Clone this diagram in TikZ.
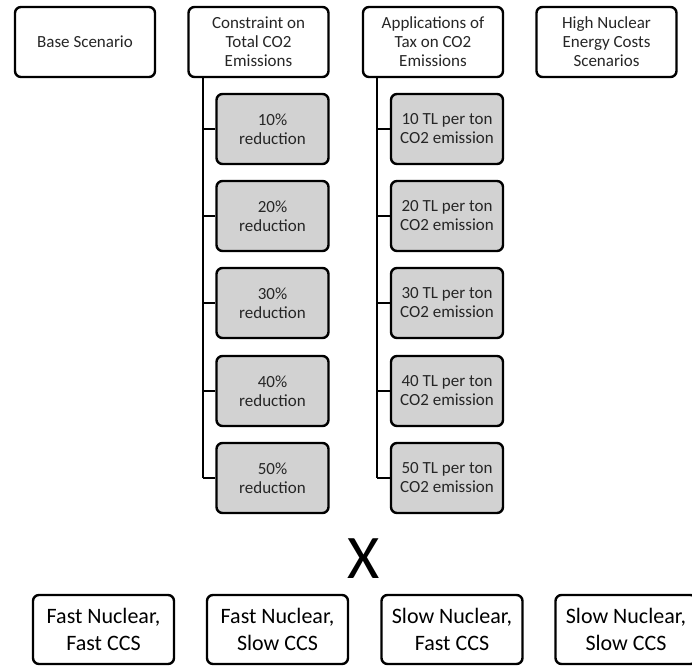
\documentclass[tikz,border=0pt]{standalone}
\usepackage{fontspec}
\setmainfont{Carlito}
\begin{document}
\begin{tikzpicture}[x=1pt,y=-1pt,
  box/.style={draw=black, line width=2.4pt, rounded corners=6pt, fill=white, align=center, inner sep=0pt,
    font=\fontsize{17}{19}\selectfont, text=black!85},
  topbox/.style={box, minimum width=140pt, minimum height=70pt},
  kid/.style={box, fill=gray!35, minimum width=112pt, minimum height=70pt},
  bot/.style={box, minimum width=141pt, minimum height=69pt, font=\fontsize{22}{27}\selectfont, text=black},
  conn/.style={draw=black, line width=2.4pt}]
\useasboundingbox (0,0) rectangle (692,666);
\node[topbox] (base) at (85,42) {Base Scenario};
\node[topbox] (cons) at (258.5,42) {Constraint on\\Total CO2\\Emissions};
\node[topbox] (tax) at (433,42) {Applications of\\Tax on CO2\\Emissions};
\node[topbox] (high) at (606.5,42) {High Nuclear\\Energy Costs\\Scenarios};
\foreach \i/\p/\yy in {1/10/129,2/20/216,3/30/303,4/40/391,5/50/478}{
  \node[kid] (c\i) at (272.5,\yy) {\p\%\\reduction};
  \node[kid] (t\i) at (447,\yy) {\p{} TL per ton\\CO2 emission};
  \coordinate (cj\i) at (203,\yy);
  \coordinate (tj\i) at (377,\yy);
  \draw[conn] (cj\i) -- (c\i.west);
  \draw[conn] (tj\i) -- (t\i.west);
}
\coordinate (ctop) at (203,0 |- cons.south);
\coordinate (ttop) at (377,0 |- tax.south);
\draw[conn, line cap=butt] (ctop) -- (cj5);
\draw[conn, line cap=butt] (ttop) -- (tj5);
\node[font=\fontsize{62}{62}\selectfont, inner sep=0pt] (x) at (364,559) {X};
\node[bot] (b1) at (103.5,629.5) {Fast Nuclear,\\Fast CCS};
\node[bot] (b2) at (277.5,629.5) {Fast Nuclear,\\Slow CCS};
\node[bot] (b3) at (452,629.5) {Slow Nuclear,\\Fast CCS};
\node[bot] (b4) at (626,629.5) {Slow Nuclear,\\Slow CCS};
\end{tikzpicture}
\end{document}
